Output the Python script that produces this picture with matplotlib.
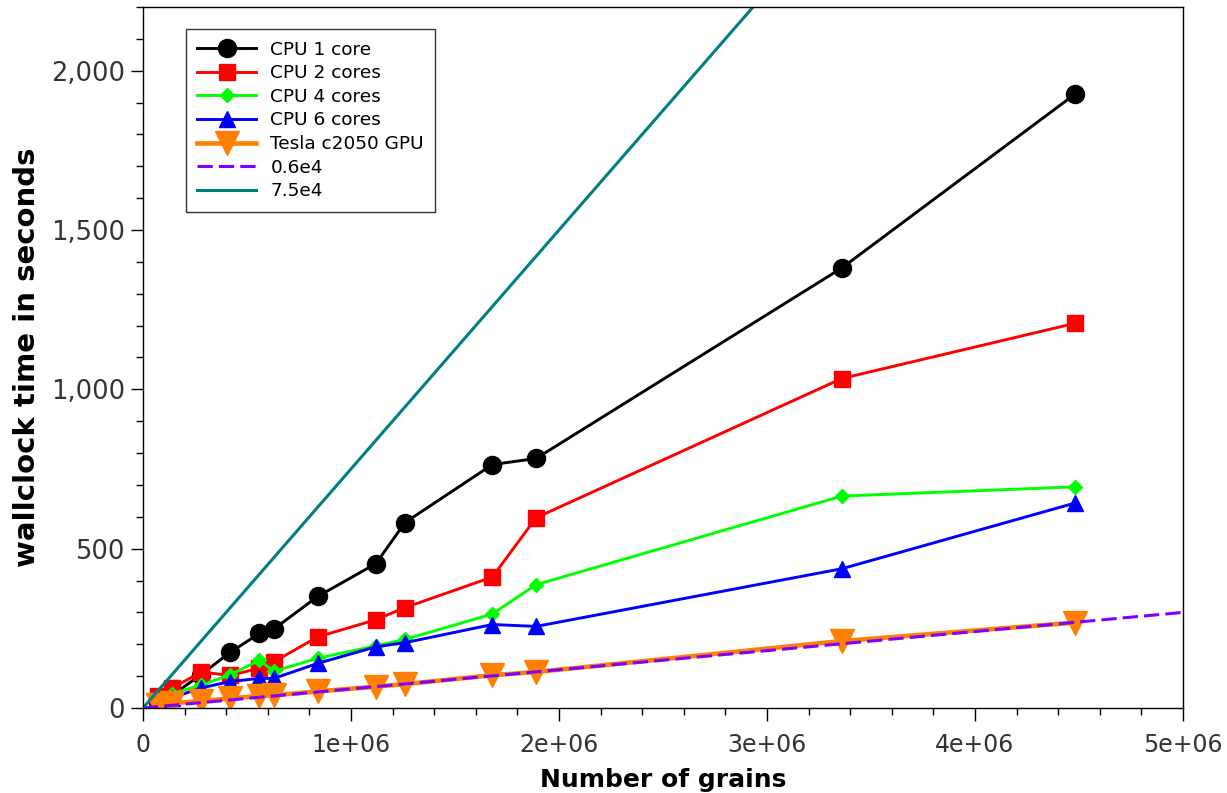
import numpy as np
import matplotlib
matplotlib.use("Agg")
import matplotlib.pyplot as plt
from matplotlib.ticker import FuncFormatter, MultipleLocator

# number of grains
grains = [70e3, 140e3, 280e3, 420e3, 560e3, 630e3, 840e3,
          1.12e6, 1.26e6, 1.68e6, 1.89e6, 3.36e6, 4.48e6]

# wallclock time (s)
cpu1 = [18, 40, 105, 175, 234, 248, 350, 453, 582, 764, 783, 1381, 1926]
cpu2 = [38, 62, 113, 102, 125, 145, 223, 277, 315, 411, 597, 1034, 1207]
cpu4 = [25, 45, 72, 104, 150, 115, 156, 195, 215, 295, 387, 665, 694]
cpu6 = [15, 32, 63, 83, 93, 93, 140, 192, 205, 262, 256, 437, 643]
gpu = [10, 15, 22, 30, 38, 40, 52, 67, 75, 103, 113, 210, 268]

# reference lines y = slope * x
ref_x = [0, 5e6]
slope_low = 0.6e-4
slope_high = 7.5e-4

fig = plt.figure(figsize=(12.27, 7.93), dpi=100)
ax = fig.add_axes([0.1165, 0.1072, 0.8476, 0.884])

ax.plot(grains, cpu1, color='black', lw=2.1, marker='o', ms=13, label='CPU 1 core')
ax.plot(grains, cpu2, color='#ff0000', lw=2.1, marker='s', ms=12, label='CPU 2 cores')
ax.plot(grains, cpu4, color='#00ff00', lw=2.1, marker='D', ms=7, label='CPU 4 cores')
ax.plot(grains, cpu6, color='#0000ff', lw=2.1, marker='^', ms=11, label='CPU 6 cores')
ax.plot(grains, gpu, color='#ff7f00', lw=3.3, marker='v', ms=17, label='Tesla c2050 GPU')
ax.plot(ref_x, [slope_low * v for v in ref_x], color='#7f00ff', lw=2.2,
        dashes=(5, 2), label='0.6e4')
ax.plot(ref_x, [slope_high * v for v in ref_x], color='#008080', lw=2.2, label='7.5e4')

ax.set_xlim(0, 5e6)
ax.set_ylim(0, 2200)
ax.xaxis.set_major_locator(MultipleLocator(1e6))
ax.xaxis.set_minor_locator(MultipleLocator(2e5))
ax.yaxis.set_major_locator(MultipleLocator(500))
ax.yaxis.set_minor_locator(MultipleLocator(100))
ax.xaxis.set_major_formatter(FuncFormatter(lambda v, p: '0' if v == 0 else '%.0e' % v))
ax.yaxis.set_major_formatter(FuncFormatter(lambda v, p: '{:,.0f}'.format(v)))

ax.tick_params(which='major', length=9, width=1, labelcolor='#333333')
ax.tick_params(which='minor', length=5, width=1)
ax.tick_params(axis='x', which='major', pad=9, labelsize=17)
ax.tick_params(axis='y', which='major', pad=4, labelsize=18.5)
for s in ax.spines.values():
    s.set_linewidth(1)

ax.set_xlabel('Number of grains', fontsize=18, fontweight='bold', labelpad=8)
ax.set_ylabel('wallclock time in seconds', fontsize=21, fontweight='bold', labelpad=7)

leg = ax.legend(loc='upper left', bbox_to_anchor=(0.0413, 0.968), fontsize=13.3,
                frameon=True, fancybox=False, edgecolor='black', handlelength=3.2,
                handletextpad=0.75, borderpad=0.62, labelspacing=0.3, borderaxespad=0)
leg.get_frame().set_linewidth(1)

fig.savefig('out.png', dpi=100, facecolor='white')
